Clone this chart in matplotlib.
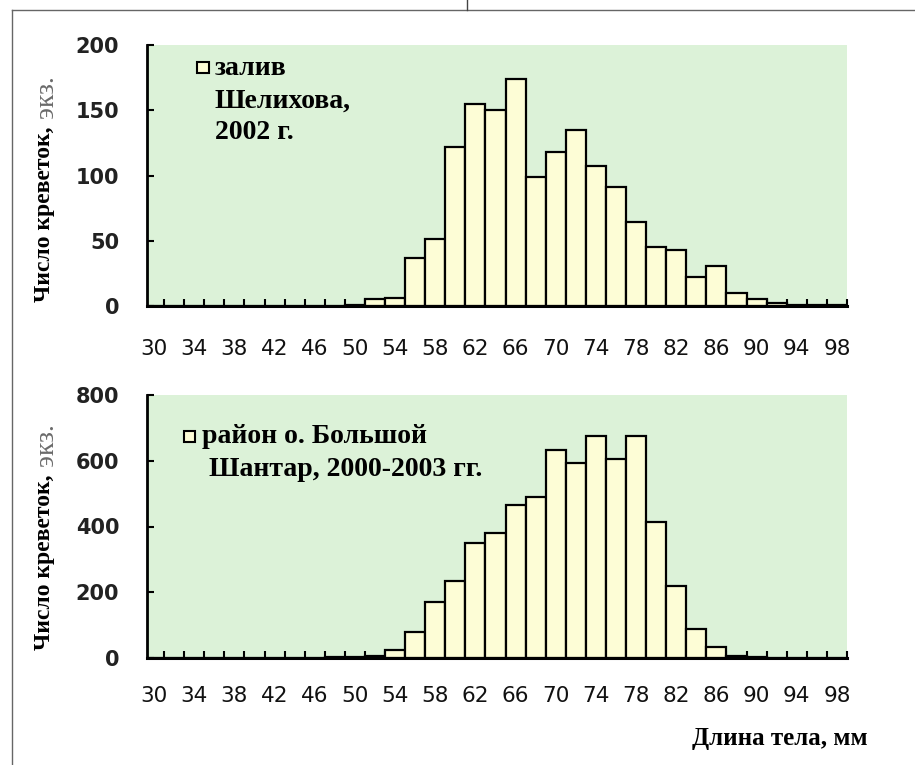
import numpy as np
import matplotlib
matplotlib.use("Agg")
import matplotlib.pyplot as plt
from matplotlib.patches import Rectangle
from matplotlib.lines import Line2D

# body length classes, mm (bar centres)
lengths = list(range(30, 100, 2))

# Shelikhov Bay, 2002
shelikhov = [0, 0, 0, 0, 0, 0, 0, 0, 0, 0,
             1, 5, 6, 37, 51, 122, 155, 150, 174, 99,
             118, 135, 107, 91, 64, 45, 43, 22, 31, 10,
             5, 2, 1, 1, 1]

# Bolshoy Shantar Island area, 2000-2003
shantar = [0, 0, 0, 0, 0, 0, 0, 0, 0, 2,
           3, 5, 24, 80, 171, 234, 350, 381, 465, 490,
           632, 592, 676, 604, 676, 413, 220, 89, 34, 5,
           2, 1, 1, 1, 1]

x_labels = list(range(30, 100, 4))
top_yticks = [0, 50, 100, 150, 200]
bot_yticks = [0, 200, 400, 600, 800]

legend_top = "залив\nШелихова,\n2002 г."
legend_bot = "район о. Большой\n Шантар, 2000-2003 гг."
ylab_main = "Число креветок,"
ylab_tail = " экз."
xlab = "Длина тела, мм"

bg_green = "#dcf2d8"
bar_fill = "#fdfdd6"
serif = ["Liberation Serif", "DejaVu Serif"]
sans = ["DejaVu Sans"]

W, H = 915, 765
fig = plt.figure(figsize=(W / 100, H / 100), dpi=100)

def px_axes(left, top, right, bottom):
    return fig.add_axes([left / W, 1 - bottom / H, (right - left) / W, (bottom - top) / H])

ax1 = px_axes(147, 45, 847, 306)
ax2 = px_axes(147, 395, 847, 658)

for ax, vals, yt, lab_pad in [(ax1, shelikhov, top_yticks, 24), (ax2, shantar, bot_yticks, 20)]:
    ax.set_facecolor(bg_green)
    ax.bar(lengths, vals, width=2, color=bar_fill, edgecolor="black", linewidth=1.6, zorder=3)
    ax.set_xlim(29.3, 99)
    ax.set_ylim(yt[0], yt[-1])
    ax.spines["top"].set_visible(False)
    ax.spines["right"].set_visible(False)
    ax.spines["left"].set_linewidth(2)
    ax.spines["bottom"].set_linewidth(2.2)
    ax.spines["bottom"].set_zorder(4)
    ax.set_yticks(yt)
    ax.set_yticklabels([str(v) for v in yt], fontsize=15, fontweight="bold", family=sans, color="#222222")
    ax.tick_params(axis="y", direction="in", length=5, width=1.5, pad=20)
    ax.set_xticks(x_labels)
    ax.set_xticklabels([str(v) for v in x_labels], fontsize=15.5, family=sans, color="#111111")
    ax.tick_params(axis="x", which="major", length=0, pad=lab_pad)
    ax.set_xticks(list(range(31, 100, 2)), minor=True)
    ax.tick_params(axis="x", which="minor", direction="in", length=5, width=1.5)

# legend keys
ax1.add_patch(Rectangle((0.072, 0.892), 0.016, 0.042, transform=ax1.transAxes,
                        facecolor=bar_fill, edgecolor="black", linewidth=1.5, zorder=5))
ax1.text(0.097, 0.958, legend_top, transform=ax1.transAxes, ha="left", va="top",
         fontsize=20, fontweight="bold", family=serif, linespacing=1.38, zorder=5)

ax2.add_patch(Rectangle((0.053, 0.82), 0.016, 0.042, transform=ax2.transAxes,
                        facecolor=bar_fill, edgecolor="black", linewidth=1.5, zorder=5))
ax2.text(0.078, 0.89, legend_bot, transform=ax2.transAxes, ha="left", va="top",
         fontsize=20, fontweight="bold", family=serif, linespacing=1.4, zorder=5)

# x axis title
fig.text(868 / W, 1 - 738 / H, xlab, ha="right", va="center",
         fontsize=18, fontweight="bold", family=serif)

# y axis titles (bold part + light tail)
fig.canvas.draw()
renderer = fig.canvas.get_renderer()
for y_bottom in [302, 650]:
    t = fig.text(45 / W, 1 - y_bottom / H, ylab_main, rotation=90, ha="center", va="bottom",
                 fontsize=17, fontweight="bold", family=serif)
    bb = t.get_window_extent(renderer)
    fig.text(47 / W, bb.y1 / H, ylab_tail, rotation=90, ha="center", va="bottom",
             fontsize=20, family=serif, color="#6a6a6a")

# page frame
fig.add_artist(Line2D([12 / W, 1], [1 - 10 / H, 1 - 10 / H], color="#666666", linewidth=1))
fig.add_artist(Line2D([12 / W, 12 / W], [1 - 10 / H, 0], color="#666666", linewidth=1))
fig.add_artist(Line2D([467 / W, 467 / W], [1, 1 - 10 / H], color="#444444", linewidth=1))

fig.savefig("out.png", dpi=100)
